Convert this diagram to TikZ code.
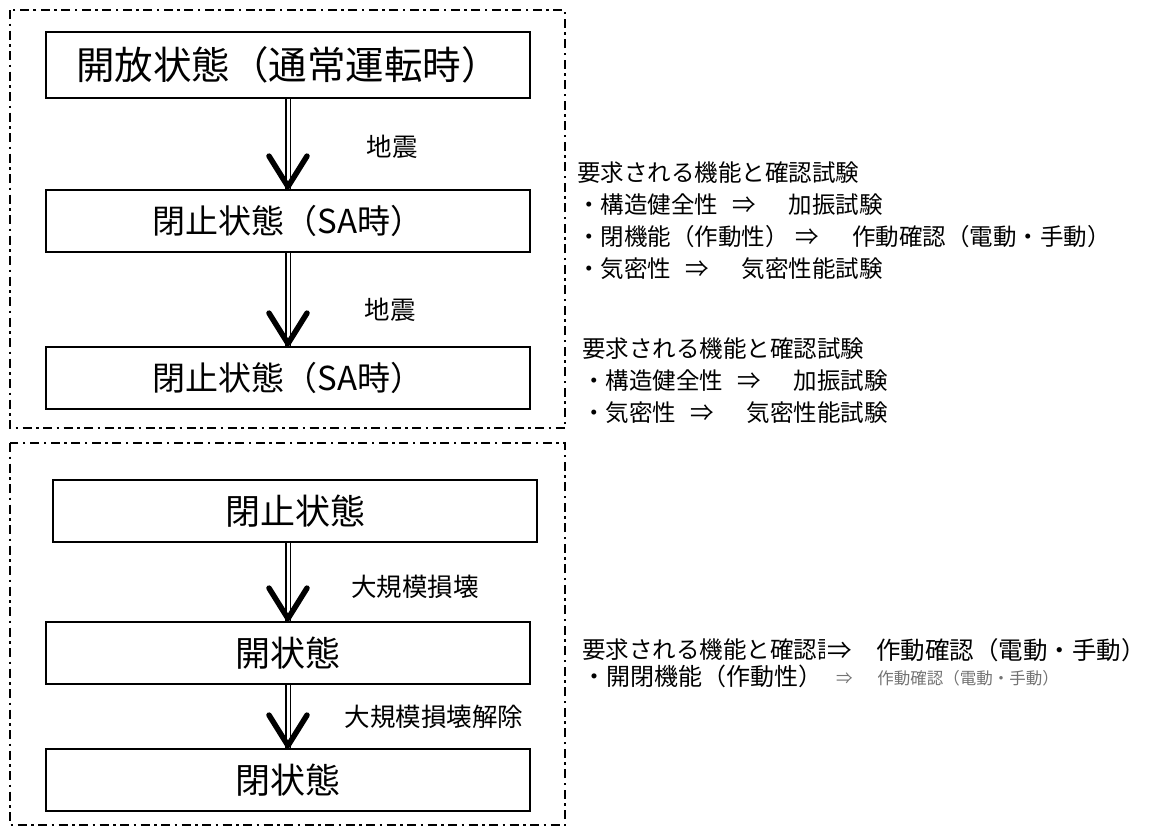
\documentclass[tikz,border=0pt]{standalone}
\usepackage{fontspec}
\newfontfamily\jp{Noto Sans CJK JP}
\usepackage{tikz}

\begin{document}
\begin{tikzpicture}
 [x=1pt, y=-1pt,
  state node/.style={draw, line width=1.8pt, minimum width=484pt, minimum height=62pt, inner sep=0pt, font=\jp\fontsize{33}{33}\selectfont},
  big node/.style={state node, minimum height=66pt, font=\jp\fontsize{38.5}{38.5}\selectfont},
  low node/.style={state node, font=\jp\fontsize{35}{35}\selectfont},
  cause node/.style={font=\jp\fontsize{25.5}{25.5}\selectfont},
  need node/.style={anchor=west, align=left, inner sep=0pt, font=\jp\fontsize{23.5}{32}\selectfont},
  frame/.style={line width=1.6pt, dash pattern=on 9pt off 4.5pt on 2.5pt off 4.5pt},
  stem/.style={double, double distance=3pt, line width=1.3pt},
  head/.style={line width=5.5pt, line cap=round, line join=round}]

\useasboundingbox (0,0) rectangle (1154,828);

% the two groups
\draw[frame] (10,10) rectangle (565,428);
\draw[frame] (10,443) rectangle (565,825);

% states in the upper group
\node[big node] (open) at (288,65) {開放状態（通常運転時）};
\node[state node] (sa1) at (288,221) {閉止状態（SA時）};
\node[state node] (sa2) at (288,378) {閉止状態（SA時）};

% states in the lower group
\node[low node] (shut) at (295,511) {閉止状態};
\node[low node] (opn) at (288,653) {開状態};
\node[low node] (cls) at (288,780) {閉状態};

% causes
\node[cause node] (quake1) at (392,147) {地震};
\node[cause node] (quake2) at (390,310) {地震};
\node[cause node] (damage) at (415,587) {大規模損壊};
\node[cause node] (undamage) at (434,717) {大規模損壊解除};

% arrows
\draw[stem] (open.south) -- (sa1.north);
\draw[head] ([shift={(-19pt,33pt)}]sa1.north) -- ([yshift=2.5pt]sa1.north) -- ([shift={(19pt,33pt)}]sa1.north);

\draw[stem] (sa1.south) -- (sa2.north);
\draw[head] ([shift={(-19pt,33pt)}]sa2.north) -- ([yshift=2.5pt]sa2.north) -- ([shift={(19pt,33pt)}]sa2.north);

\draw[stem] (opn.north |- shut.south) -- (opn.north);
\draw[head] ([shift={(-19pt,33pt)}]opn.north) -- ([yshift=2.5pt]opn.north) -- ([shift={(19pt,33pt)}]opn.north);

\draw[stem] (opn.south) -- (cls.north);
\draw[head] ([shift={(-19pt,33pt)}]cls.north) -- ([yshift=2.5pt]cls.north) -- ([shift={(19pt,33pt)}]cls.north);

% required functions and tests
\node[need node] (need1) at (577,221) {要求される機能と確認試験\\
  ・構造健全性\hspace{0.6em}⇒\hspace{1.4em}加振試験\\
  ・閉機能（作動性）\hspace{0.3em}⇒\hspace{1.4em}作動確認（電動・手動）\\
  ・気密性\hspace{0.6em}⇒\hspace{1.4em}気密性能試験};

\node[need node] (need2) at (582,381) {要求される機能と確認試験\\
  ・構造健全性\hspace{0.6em}⇒\hspace{1.4em}加振試験\\
  ・気密性\hspace{0.6em}⇒\hspace{1.4em}気密性能試験};

\node[need node] (need3) at (582,650) {要求される機能と確認試験};
\node[need node, fill=white, inner sep=2pt, font=\jp\fontsize{24.5}{24.5}\selectfont] (need3b) at (825,650) {⇒\hspace{1em}作動確認（電動・手動）};
\node[need node, font=\jp\fontsize{24}{24}\selectfont] (need3c) at (582,676) {・開閉機能（作動性）};
\node[need node, text=black!55, font=\jp\fontsize{16.5}{16.5}\selectfont] (need3d) at (836,678) {⇒\hspace{1.5em}作動確認（電動・手動）};

\end{tikzpicture}
\end{document}
